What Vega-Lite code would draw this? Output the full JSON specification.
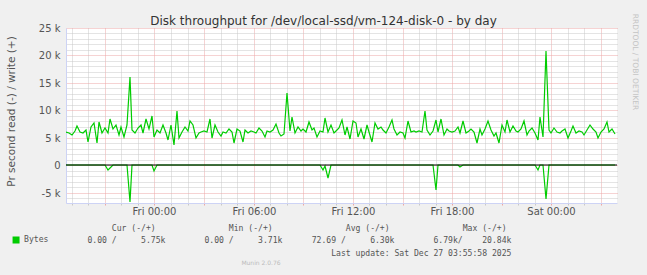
{
  "$schema": "https://vega.github.io/schema/vega-lite/v6.json",
  "width": 551,
  "height": 175,
  "autosize": {"type": "none"},
  "padding": {"left": 66, "top": 28, "right": 30, "bottom": 72},
  "background": "#f0f0f0",
  "config": {
    "view": {"fill": "#ffffff", "stroke": null},
    "font": "DejaVu Sans"
  },
  "title": {
    "text": "Disk throughput for /dev/local-ssd/vm-124-disk-0 - by day",
    "font": "DejaVu Sans",
    "fontSize": 12,
    "fontWeight": "normal",
    "color": "#333333",
    "anchor": "middle",
    "frame": "group",
    "dx": -18,
    "dy": 18,
    "offset": 4
  },
  "resolve": {"axis": {"x": "independent", "y": "independent"}},
  "data": {
    "values": [
      {"t": "2025-12-25T18:40Z", "w": 6100, "r": 0},
      {"t": "2025-12-25T18:50Z", "w": 5850, "r": 0},
      {"t": "2025-12-25T19:00Z", "w": 5500, "r": 0},
      {"t": "2025-12-25T19:10Z", "w": 6150, "r": 0},
      {"t": "2025-12-25T19:20Z", "w": 7050, "r": 0},
      {"t": "2025-12-25T19:30Z", "w": 6100, "r": 0},
      {"t": "2025-12-25T19:40Z", "w": 5800, "r": 0},
      {"t": "2025-12-25T19:50Z", "w": 6400, "r": 0},
      {"t": "2025-12-25T20:00Z", "w": 4300, "r": 0},
      {"t": "2025-12-25T20:10Z", "w": 7000, "r": 0},
      {"t": "2025-12-25T20:20Z", "w": 7600, "r": 0},
      {"t": "2025-12-25T20:30Z", "w": 4000, "r": 0},
      {"t": "2025-12-25T20:40Z", "w": 7900, "r": 0},
      {"t": "2025-12-25T20:50Z", "w": 5850, "r": 0},
      {"t": "2025-12-25T21:00Z", "w": 6750, "r": 0},
      {"t": "2025-12-25T21:10Z", "w": 5800, "r": -900},
      {"t": "2025-12-25T21:20Z", "w": 8400, "r": -500},
      {"t": "2025-12-25T21:30Z", "w": 6500, "r": 0},
      {"t": "2025-12-25T21:40Z", "w": 7300, "r": 0},
      {"t": "2025-12-25T21:50Z", "w": 5500, "r": 0},
      {"t": "2025-12-25T22:00Z", "w": 7000, "r": 0},
      {"t": "2025-12-25T22:10Z", "w": 5200, "r": 0},
      {"t": "2025-12-25T22:20Z", "w": 7300, "r": 0},
      {"t": "2025-12-25T22:30Z", "w": 16000, "r": -6790},
      {"t": "2025-12-25T22:40Z", "w": 6400, "r": 0},
      {"t": "2025-12-25T22:50Z", "w": 5850, "r": 0},
      {"t": "2025-12-25T23:00Z", "w": 6750, "r": 0},
      {"t": "2025-12-25T23:10Z", "w": 7400, "r": 0},
      {"t": "2025-12-25T23:20Z", "w": 5800, "r": 0},
      {"t": "2025-12-25T23:30Z", "w": 8500, "r": 0},
      {"t": "2025-12-25T23:40Z", "w": 6500, "r": 0},
      {"t": "2025-12-25T23:50Z", "w": 8900, "r": 0},
      {"t": "2025-12-26T00:00Z", "w": 5200, "r": -1150},
      {"t": "2025-12-26T00:10Z", "w": 6400, "r": 0},
      {"t": "2025-12-26T00:20Z", "w": 5800, "r": 0},
      {"t": "2025-12-26T00:30Z", "w": 7400, "r": 0},
      {"t": "2025-12-26T00:40Z", "w": 5850, "r": 0},
      {"t": "2025-12-26T00:50Z", "w": 4600, "r": 0},
      {"t": "2025-12-26T01:00Z", "w": 7300, "r": 0},
      {"t": "2025-12-26T01:10Z", "w": 3710, "r": 0},
      {"t": "2025-12-26T01:20Z", "w": 9800, "r": 0},
      {"t": "2025-12-26T01:30Z", "w": 5000, "r": 0},
      {"t": "2025-12-26T01:40Z", "w": 6000, "r": 0},
      {"t": "2025-12-26T01:50Z", "w": 7000, "r": 0},
      {"t": "2025-12-26T02:00Z", "w": 6200, "r": 0},
      {"t": "2025-12-26T02:10Z", "w": 7960, "r": 0},
      {"t": "2025-12-26T02:20Z", "w": 7400, "r": 0},
      {"t": "2025-12-26T02:30Z", "w": 5000, "r": 0},
      {"t": "2025-12-26T02:40Z", "w": 5800, "r": 0},
      {"t": "2025-12-26T02:50Z", "w": 6100, "r": 0},
      {"t": "2025-12-26T03:00Z", "w": 6300, "r": 0},
      {"t": "2025-12-26T03:10Z", "w": 6000, "r": 0},
      {"t": "2025-12-26T03:20Z", "w": 8400, "r": 0},
      {"t": "2025-12-26T03:30Z", "w": 4900, "r": 0},
      {"t": "2025-12-26T03:40Z", "w": 7300, "r": 0},
      {"t": "2025-12-26T03:50Z", "w": 6000, "r": 0},
      {"t": "2025-12-26T04:00Z", "w": 5300, "r": 0},
      {"t": "2025-12-26T04:10Z", "w": 6100, "r": 0},
      {"t": "2025-12-26T04:20Z", "w": 5800, "r": 0},
      {"t": "2025-12-26T04:30Z", "w": 6500, "r": 0},
      {"t": "2025-12-26T04:40Z", "w": 6000, "r": 0},
      {"t": "2025-12-26T04:50Z", "w": 4100, "r": 0},
      {"t": "2025-12-26T05:00Z", "w": 6600, "r": 0},
      {"t": "2025-12-26T05:10Z", "w": 6200, "r": 0},
      {"t": "2025-12-26T05:20Z", "w": 4200, "r": 0},
      {"t": "2025-12-26T05:30Z", "w": 6400, "r": 0},
      {"t": "2025-12-26T05:40Z", "w": 5900, "r": 0},
      {"t": "2025-12-26T05:50Z", "w": 6300, "r": 0},
      {"t": "2025-12-26T06:00Z", "w": 6100, "r": 0},
      {"t": "2025-12-26T06:10Z", "w": 5900, "r": 0},
      {"t": "2025-12-26T06:20Z", "w": 6800, "r": 0},
      {"t": "2025-12-26T06:30Z", "w": 6200, "r": 0},
      {"t": "2025-12-26T06:40Z", "w": 5200, "r": 0},
      {"t": "2025-12-26T06:50Z", "w": 6300, "r": 0},
      {"t": "2025-12-26T07:00Z", "w": 6100, "r": 0},
      {"t": "2025-12-26T07:10Z", "w": 6400, "r": 0},
      {"t": "2025-12-26T07:20Z", "w": 7500, "r": 0},
      {"t": "2025-12-26T07:30Z", "w": 5900, "r": 0},
      {"t": "2025-12-26T07:40Z", "w": 5300, "r": 0},
      {"t": "2025-12-26T07:50Z", "w": 5600, "r": 0},
      {"t": "2025-12-26T08:00Z", "w": 13100, "r": 0},
      {"t": "2025-12-26T08:10Z", "w": 6200, "r": 0},
      {"t": "2025-12-26T08:20Z", "w": 8800, "r": 0},
      {"t": "2025-12-26T08:30Z", "w": 5800, "r": 0},
      {"t": "2025-12-26T08:40Z", "w": 7000, "r": 0},
      {"t": "2025-12-26T08:50Z", "w": 6200, "r": 0},
      {"t": "2025-12-26T09:00Z", "w": 6600, "r": 0},
      {"t": "2025-12-26T09:10Z", "w": 6000, "r": 0},
      {"t": "2025-12-26T09:20Z", "w": 7900, "r": 0},
      {"t": "2025-12-26T09:30Z", "w": 6400, "r": 0},
      {"t": "2025-12-26T09:40Z", "w": 6800, "r": 0},
      {"t": "2025-12-26T09:50Z", "w": 5200, "r": 0},
      {"t": "2025-12-26T10:00Z", "w": 6300, "r": 0},
      {"t": "2025-12-26T10:10Z", "w": 6100, "r": -850},
      {"t": "2025-12-26T10:20Z", "w": 8600, "r": -100},
      {"t": "2025-12-26T10:30Z", "w": 6100, "r": -2260},
      {"t": "2025-12-26T10:40Z", "w": 7300, "r": 0},
      {"t": "2025-12-26T10:50Z", "w": 5800, "r": 0},
      {"t": "2025-12-26T11:00Z", "w": 6200, "r": 0},
      {"t": "2025-12-26T11:10Z", "w": 6800, "r": 0},
      {"t": "2025-12-26T11:20Z", "w": 8300, "r": 0},
      {"t": "2025-12-26T11:30Z", "w": 5500, "r": 0},
      {"t": "2025-12-26T11:40Z", "w": 7000, "r": 0},
      {"t": "2025-12-26T11:50Z", "w": 4700, "r": 0},
      {"t": "2025-12-26T12:00Z", "w": 8000, "r": 0},
      {"t": "2025-12-26T12:10Z", "w": 7600, "r": 0},
      {"t": "2025-12-26T12:20Z", "w": 5200, "r": 0},
      {"t": "2025-12-26T12:30Z", "w": 6500, "r": 0},
      {"t": "2025-12-26T12:40Z", "w": 4700, "r": 0},
      {"t": "2025-12-26T12:50Z", "w": 7300, "r": 0},
      {"t": "2025-12-26T13:00Z", "w": 6000, "r": 0},
      {"t": "2025-12-26T13:10Z", "w": 4300, "r": 0},
      {"t": "2025-12-26T13:20Z", "w": 7600, "r": 0},
      {"t": "2025-12-26T13:30Z", "w": 6500, "r": 0},
      {"t": "2025-12-26T13:40Z", "w": 6900, "r": 0},
      {"t": "2025-12-26T13:50Z", "w": 6400, "r": 0},
      {"t": "2025-12-26T14:00Z", "w": 5800, "r": 0},
      {"t": "2025-12-26T14:10Z", "w": 7000, "r": 0},
      {"t": "2025-12-26T14:20Z", "w": 8200, "r": 0},
      {"t": "2025-12-26T14:30Z", "w": 6500, "r": 0},
      {"t": "2025-12-26T14:40Z", "w": 5500, "r": 0},
      {"t": "2025-12-26T14:50Z", "w": 6100, "r": 0},
      {"t": "2025-12-26T15:00Z", "w": 5800, "r": 0},
      {"t": "2025-12-26T15:10Z", "w": 4900, "r": 0},
      {"t": "2025-12-26T15:20Z", "w": 8000, "r": 0},
      {"t": "2025-12-26T15:30Z", "w": 6100, "r": 0},
      {"t": "2025-12-26T15:40Z", "w": 6300, "r": 0},
      {"t": "2025-12-26T15:50Z", "w": 6000, "r": 0},
      {"t": "2025-12-26T16:00Z", "w": 6200, "r": 0},
      {"t": "2025-12-26T16:10Z", "w": 6000, "r": 0},
      {"t": "2025-12-26T16:20Z", "w": 9800, "r": 0},
      {"t": "2025-12-26T16:30Z", "w": 6400, "r": 0},
      {"t": "2025-12-26T16:40Z", "w": 5500, "r": 0},
      {"t": "2025-12-26T16:50Z", "w": 6300, "r": 0},
      {"t": "2025-12-26T17:00Z", "w": 8200, "r": -4600},
      {"t": "2025-12-26T17:10Z", "w": 6100, "r": 0},
      {"t": "2025-12-26T17:20Z", "w": 8400, "r": 0},
      {"t": "2025-12-26T17:30Z", "w": 5500, "r": 0},
      {"t": "2025-12-26T17:40Z", "w": 6500, "r": 0},
      {"t": "2025-12-26T17:50Z", "w": 6200, "r": 0},
      {"t": "2025-12-26T18:00Z", "w": 6000, "r": 0},
      {"t": "2025-12-26T18:10Z", "w": 6300, "r": 0},
      {"t": "2025-12-26T18:20Z", "w": 7000, "r": 0},
      {"t": "2025-12-26T18:30Z", "w": 5800, "r": -250},
      {"t": "2025-12-26T18:40Z", "w": 8000, "r": 0},
      {"t": "2025-12-26T18:50Z", "w": 5800, "r": 0},
      {"t": "2025-12-26T19:00Z", "w": 6300, "r": 0},
      {"t": "2025-12-26T19:10Z", "w": 6500, "r": 0},
      {"t": "2025-12-26T19:20Z", "w": 6100, "r": 0},
      {"t": "2025-12-26T19:30Z", "w": 4100, "r": 0},
      {"t": "2025-12-26T19:40Z", "w": 6500, "r": 0},
      {"t": "2025-12-26T19:50Z", "w": 5500, "r": 0},
      {"t": "2025-12-26T20:00Z", "w": 6500, "r": 0},
      {"t": "2025-12-26T20:10Z", "w": 8000, "r": 0},
      {"t": "2025-12-26T20:20Z", "w": 6400, "r": 0},
      {"t": "2025-12-26T20:30Z", "w": 5300, "r": 0},
      {"t": "2025-12-26T20:40Z", "w": 5900, "r": 0},
      {"t": "2025-12-26T20:50Z", "w": 4100, "r": 0},
      {"t": "2025-12-26T21:00Z", "w": 7300, "r": 0},
      {"t": "2025-12-26T21:10Z", "w": 6100, "r": 0},
      {"t": "2025-12-26T21:20Z", "w": 8200, "r": 0},
      {"t": "2025-12-26T21:30Z", "w": 6100, "r": 0},
      {"t": "2025-12-26T21:40Z", "w": 7200, "r": 0},
      {"t": "2025-12-26T21:50Z", "w": 6300, "r": 0},
      {"t": "2025-12-26T22:00Z", "w": 6100, "r": 0},
      {"t": "2025-12-26T22:10Z", "w": 6600, "r": 0},
      {"t": "2025-12-26T22:20Z", "w": 8000, "r": 0},
      {"t": "2025-12-26T22:30Z", "w": 5500, "r": 0},
      {"t": "2025-12-26T22:40Z", "w": 6300, "r": 0},
      {"t": "2025-12-26T22:50Z", "w": 6800, "r": 0},
      {"t": "2025-12-26T23:00Z", "w": 5800, "r": 0},
      {"t": "2025-12-26T23:10Z", "w": 4600, "r": -850},
      {"t": "2025-12-26T23:20Z", "w": 8800, "r": 0},
      {"t": "2025-12-26T23:30Z", "w": 5200, "r": 0},
      {"t": "2025-12-26T23:40Z", "w": 20840, "r": -6200},
      {"t": "2025-12-26T23:50Z", "w": 6400, "r": 0},
      {"t": "2025-12-27T00:00Z", "w": 5800, "r": 0},
      {"t": "2025-12-27T00:10Z", "w": 6800, "r": 0},
      {"t": "2025-12-27T00:20Z", "w": 6000, "r": 0},
      {"t": "2025-12-27T00:30Z", "w": 5800, "r": 0},
      {"t": "2025-12-27T00:40Z", "w": 6300, "r": 0},
      {"t": "2025-12-27T00:50Z", "w": 6500, "r": 0},
      {"t": "2025-12-27T01:00Z", "w": 4900, "r": 0},
      {"t": "2025-12-27T01:10Z", "w": 6200, "r": 0},
      {"t": "2025-12-27T01:20Z", "w": 7200, "r": 0},
      {"t": "2025-12-27T01:30Z", "w": 5800, "r": 0},
      {"t": "2025-12-27T01:40Z", "w": 6200, "r": 0},
      {"t": "2025-12-27T01:50Z", "w": 6100, "r": 0},
      {"t": "2025-12-27T02:00Z", "w": 5500, "r": 0},
      {"t": "2025-12-27T02:10Z", "w": 6400, "r": 0},
      {"t": "2025-12-27T02:20Z", "w": 7300, "r": 0},
      {"t": "2025-12-27T02:30Z", "w": 6500, "r": 0},
      {"t": "2025-12-27T02:40Z", "w": 6000, "r": 0},
      {"t": "2025-12-27T02:50Z", "w": 4900, "r": 0},
      {"t": "2025-12-27T03:00Z", "w": 6100, "r": 0},
      {"t": "2025-12-27T03:10Z", "w": 6500, "r": 0},
      {"t": "2025-12-27T03:20Z", "w": 7800, "r": 0},
      {"t": "2025-12-27T03:30Z", "w": 6100, "r": 0},
      {"t": "2025-12-27T03:40Z", "w": 6500, "r": 0},
      {"t": "2025-12-27T03:50Z", "w": 5750, "r": 0}
    ]
  },
  "layer": [
    {
      "transform": [{"fold": ["w", "r"], "as": ["series", "value"]}],
      "mark": {"type": "line", "strokeWidth": 1.2, "clip": true},
      "encoding": {
        "x": {
          "field": "t",
          "type": "temporal",
          "scale": {"type": "utc", "domain": [1766687940000, 1766807880000], "round": true},
          "axis": {
            "orient": "bottom",
            "values": [1766689200000, 1766692800000, 1766696400000, 1766700000000, 1766703600000, 1766707200000, 1766710800000, 1766714400000, 1766718000000, 1766721600000, 1766725200000, 1766728800000, 1766732400000, 1766736000000, 1766739600000, 1766743200000, 1766746800000, 1766750400000, 1766754000000, 1766757600000, 1766761200000, 1766764800000, 1766768400000, 1766772000000, 1766775600000, 1766779200000, 1766782800000, 1766786400000, 1766790000000, 1766793600000, 1766797200000, 1766800800000, 1766804400000],
            "grid": true,
            "gridDash": [1, 1],
            "gridColor": {"condition": {"test": "utchours(datum.value) % 3 === 0", "value": "#eda6a6"}, "value": "#c8c8c8"},
            "ticks": true,
            "tickSize": 2,
            "tickColor": {"condition": {"test": "utchours(datum.value) % 3 === 0", "value": "#eda6a6"}, "value": "#c8c8c8"},
            "labels": false,
            "domainColor": "#cdd3f5",
            "title": [
              "\u200b\u00a0\u00a0\u00a0\u00a0\u00a0Cur\u00a0(-/+)\u00a0\u00a0\u00a0\u00a0\u00a0\u00a0\u00a0\u00a0\u00a0\u00a0\u00a0\u00a0\u00a0\u00a0\u00a0Min\u00a0(-/+)\u00a0\u00a0\u00a0\u00a0\u00a0\u00a0\u00a0\u00a0\u00a0\u00a0\u00a0\u00a0\u00a0\u00a0\u00a0Avg\u00a0(-/+)\u00a0\u00a0\u00a0\u00a0\u00a0\u00a0\u00a0\u00a0\u00a0\u00a0\u00a0\u00a0\u00a0\u00a0\u00a0Max\u00a0(-/+)",
              "0.00\u00a0/\u00a0\u00a0\u00a0\u00a0\u00a05.75k\u00a0\u00a0\u00a0\u00a0\u00a0\u00a0\u00a0\u00a00.00\u00a0/\u00a0\u00a0\u00a0\u00a0\u00a03.71k\u00a0\u00a0\u00a0\u00a0\u00a0\u00a072.69\u00a0/\u00a0\u00a0\u00a0\u00a0\u00a06.30k\u00a0\u00a0\u00a0\u00a0\u00a0\u00a0\u00a0\u00a06.79k/\u00a0\u00a0\u00a0\u00a020.84k",
              "\u200b\u00a0\u00a0\u00a0\u00a0\u00a0\u00a0\u00a0\u00a0\u00a0\u00a0\u00a0\u00a0\u00a0\u00a0\u00a0\u00a0\u00a0\u00a0\u00a0\u00a0\u00a0\u00a0\u00a0\u00a0\u00a0\u00a0\u00a0\u00a0\u00a0\u00a0\u00a0\u00a0\u00a0\u00a0\u00a0\u00a0\u00a0\u00a0\u00a0\u00a0\u00a0\u00a0\u00a0\u00a0\u00a0\u00a0\u00a0\u00a0\u00a0\u00a0Last\u00a0update:\u00a0Sat\u00a0Dec\u00a027\u00a003:55:58\u00a02025"
            ],
            "titleFont": "DejaVu Sans Mono",
            "titleFontSize": 8.1,
            "titleFontWeight": "normal",
            "titleColor": "#555555",
            "titleAlign": "left",
            "titleBaseline": "alphabetic",
            "titleLineHeight": 12.5,
            "titleX": 21,
            "titleY": 27
          }
        },
        "y": {
          "field": "value",
          "type": "quantitative",
          "scale": {"domain": [-6900, 25000], "nice": false, "zero": false, "round": true},
          "axis": {
            "orient": "left",
            "values": [-6000, -5000, -4000, -3000, -2000, -1000, 0, 1000, 2000, 3000, 4000, 5000, 6000, 7000, 8000, 9000, 10000, 11000, 12000, 13000, 14000, 15000, 16000, 17000, 18000, 19000, 20000, 21000, 22000, 23000, 24000, 25000],
            "grid": true,
            "gridDash": [1, 1],
            "gridColor": {"condition": {"test": "datum.value % 5000 === 0", "value": "#eda6a6"}, "value": "#c8c8c8"},
            "ticks": false,
            "labels": false,
            "domainColor": "#cdd3f5",
            "title": "Pr second read (-) / write (+)",
            "titleFont": "DejaVu Sans",
            "titleFontSize": 10.5,
            "titleFontWeight": "normal",
            "titleColor": "#555555",
            "titleAlign": "center",
            "titleBaseline": "middle",
            "titleAngle": -90,
            "titleX": -55,
            "titleY": 83
          }
        },
        "detail": {"field": "series"},
        "color": {
          "datum": "Bytes",
          "type": "nominal",
          "scale": {"range": ["#00cc00"]},
          "legend": {
            "orient": "none",
            "legendX": -54,
            "legendY": 208,
            "title": null,
            "padding": 0,
            "symbolType": "square",
            "symbolSize": 30,
            "symbolFillColor": "#00cc00",
            "symbolStrokeColor": "#00cc00",
            "labelFont": "DejaVu Sans Mono",
            "labelFontSize": 8.1,
            "labelColor": "#555555",
            "labelOffset": 4
          }
        }
      }
    },
    {
      "data": {"values": [{"level": 0}]},
      "mark": {"type": "rule", "color": "#000000", "strokeWidth": 1.2},
      "encoding": {"y": {"field": "level", "type": "quantitative", "axis": null}}
    },
    {
      "data": {"values": [{"label": "Munin 2.0.76"}]},
      "mark": {"type": "text", "font": "DejaVu Sans", "fontSize": 6, "color": "#bbbbbb", "align": "center", "baseline": "middle"},
      "encoding": {
        "x": {
          "datum": 1766730360000,
          "type": "temporal",
          "axis": {
            "orient": "bottom",
            "values": [1766707200000, 1766728800000, 1766750400000, 1766772000000, 1766793600000],
            "grid": false,
            "ticks": false,
            "domain": false,
            "labelExpr": "utcFormat(datum.value, '%a %H:%M')",
            "labelOverlap": false,
            "labelFlush": false,
            "labelFont": "DejaVu Sans",
            "labelFontSize": 10,
            "labelColor": "#555555",
            "labelPadding": 3,
            "title": null
          }
        },
        "y": {
          "datum": -17900,
          "type": "quantitative",
          "axis": {
            "orient": "left",
            "values": [-5000, 0, 5000, 10000, 15000, 20000, 25000],
            "grid": false,
            "ticks": false,
            "domain": false,
            "labelExpr": "datum.value === 0 ? '0' : (datum.value / 1000) + ' k'",
            "labelOverlap": false,
            "labelFlush": false,
            "labelFont": "DejaVu Sans",
            "labelFontSize": 10,
            "labelColor": "#555555",
            "labelPadding": 6,
            "title": null
          }
        },
        "text": {"field": "label"}
      }
    },
    {
      "data": {"values": [{"label": "RRDTOOL / TOBI OETIKER"}]},
      "mark": {"type": "text", "font": "DejaVu Sans", "fontSize": 7.5, "color": "#c4c4c4", "align": "center", "baseline": "middle", "angle": 90},
      "encoding": {
        "x": {"datum": 1766811900000, "type": "temporal", "axis": null},
        "y": {"datum": 18890, "type": "quantitative", "axis": null},
        "text": {"field": "label"}
      }
    }
  ]
}
